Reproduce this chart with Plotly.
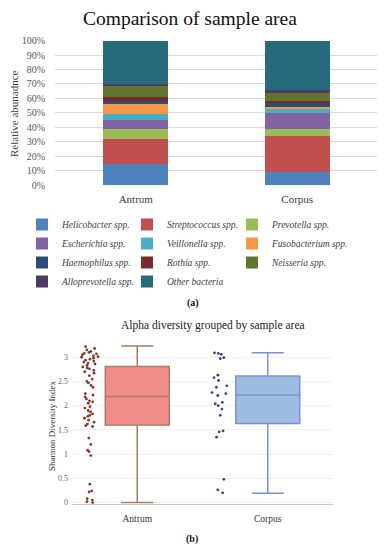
import plotly.graph_objects as go

W, H = 385, 550
OFF = 8  # page body margin of the viewing page

# ---------------- data: panel (a) ----------------
sites = ["Antrum", "Corpus"]
taxa = ["Helicobacter spp.", "Streptococcus spp.", "Prevotella spp.",
        "Escherichia spp.", "Veillonella spp.", "Fusobacterium spp.",
        "Haemophilus spp.", "Rothia spp.", "Neisseria spp.",
        "Alloprevotella spp.", "Other bacteria"]
antrum_pct = [14.3, 17.6, 6.9, 6.2, 4.4, 6.5, 2.3, 2.8, 7.6, 1.6, 29.8]
corpus_pct = [8.8, 25.4, 4.8, 11.1, 2.5, 1.8, 2.5, 1.6, 5.5, 1.6, 34.4]
pct_ticks = list(range(0, 101, 10))

# ---------------- data: panel (b) ----------------
antrum_shannon = [3.22, 3.18, 3.15, 3.12, 3.10, 3.08, 3.07, 3.05, 3.03, 3.01,
                  3.00, 2.98, 2.96, 2.94, 2.92, 2.90, 2.88, 2.86, 2.83, 2.80,
                  2.78, 2.76, 2.73, 2.70, 2.67, 2.62, 2.55, 2.50, 2.47, 2.42,
                  2.38, 2.25, 2.22, 2.18, 2.14, 2.10, 2.08, 2.05, 1.98, 1.95,
                  1.90, 1.87, 1.83, 1.80, 1.78, 1.74, 1.70, 1.66, 1.62, 1.59,
                  1.57, 1.33, 1.20, 1.08, 1.05, 0.97, 0.38, 0.24, 0.22, 0.08,
                  0.05, 0.02, 0.00]
corpus_shannon = [3.09, 3.08, 3.06, 2.99, 2.97, 2.63, 2.58, 2.52, 2.41, 2.38,
                  2.27, 2.25, 2.21, 2.07, 2.04, 2.00, 1.93, 1.80, 1.48, 1.46,
                  1.35, 0.48, 0.26, 0.20]
# box statistics: [q1, median, q3, lower fence, upper fence]
antrum_stats = [1.60, 2.19, 2.81, 0.00, 3.23]
corpus_stats = [1.63, 2.22, 2.61, 0.19, 3.09]
shannon_ticks = [0, 0.5, 1, 1.5, 2, 2.5, 3]

# ---------------- styles ----------------
taxa_colors = ["#4F81BD", "#C0504D", "#9BBB59", "#8064A2", "#4BACC6", "#F79646",
               "#2C4D75", "#772C2A", "#5F7530", "#4D3B62", "#276A7C"]
legend_ids = ["legend", "legend2", "legend3"]
SERIF = "Liberation Serif, Times New Roman, serif"


def px(x):
    return (x - OFF) / W


def py(y):
    return 1 - (y - OFF) / H


fig = go.Figure()

for i, name in enumerate(taxa):
    fig.add_trace(go.Bar(
        x=sites, y=[antrum_pct[i], corpus_pct[i]], name=name,
        marker=dict(color=taxa_colors[i], line=dict(width=0)),
        width=0.4, legend=legend_ids[i % 3], xaxis="x", yaxis="y",
    ))

box_specs = [
    ("Antrum", antrum_shannon, antrum_stats, "rgb(240,140,140)", "rgb(168,125,98)", "rgb(135,55,40)"),
    ("Corpus", corpus_shannon, corpus_stats, "rgb(157,188,224)", "rgb(125,145,210)", "rgb(60,70,115)"),
]
for site, vals, st, fillc, linec, ptc in box_specs:
    fig.add_trace(go.Box(
        x=[site], q1=[st[0]], median=[st[1]], q3=[st[2]],
        lowerfence=[st[3]], upperfence=[st[4]],
        fillcolor=fillc, line=dict(color=linec, width=1.5),
        width=0.49, whiskerwidth=0.5, boxpoints=False,
        showlegend=False, xaxis="x2", yaxis="y2",
    ))
    fig.add_trace(go.Box(
        x=[site] * len(vals), y=vals,
        fillcolor="rgba(0,0,0,0)", line=dict(color="rgba(0,0,0,0)", width=0),
        width=0.49, boxpoints="all", jitter=0.27, pointpos=-1.48,
        marker=dict(color=ptc, size=2.8),
        showlegend=False, xaxis="x2", yaxis="y2",
    ))

legend_common = dict(
    orientation="v", xanchor="left", yanchor="top", traceorder="normal",
    bgcolor="rgba(0,0,0,0)",
    font=dict(family=SERIF, size=9.5, color="#404040", style="italic"),
    tracegroupgap=0, itemwidth=30,
)
legend_y = py(210)
layout_legends = {
    "legend": dict(x=px(22), y=legend_y, **legend_common),
    "legend2": dict(x=px(127), y=legend_y, **legend_common),
    "legend3": dict(x=px(232), y=legend_y, **legend_common),
}


def ann(text, x, y, size, color="#222222", angle=0):
    return dict(text=text, x=px(x), y=py(y), xref="paper", yref="paper",
                xanchor="center", yanchor="middle", textangle=angle,
                showarrow=False, font=dict(family=SERIF, size=size, color=color))


fig.update_layout(
    template="none",
    width=W, height=H,
    margin=dict(l=0, r=0, t=0, b=0, pad=0, autoexpand=False),
    paper_bgcolor="white", plot_bgcolor="white",
    barmode="stack", boxmode="overlay",
    font=dict(family=SERIF, color="#404040"),
    xaxis=dict(domain=[px(55), px(378)], range=[-0.5, 1.5], showgrid=False, showline=False,
               zeroline=False, automargin=False, ticks="",
               tickfont=dict(family=SERIF, size=11, color="#404040"), ticklabelstandoff=6),
    yaxis=dict(domain=[py(185), py(40.7)], range=[0, 100], tickvals=pct_ticks,
               ticktext=[f"{v}%" for v in pct_ticks], automargin=False, ticks="",
               showgrid=True, gridcolor="#D9D9D9", gridwidth=1,
               zeroline=False, showline=False,
               tickfont=dict(family=SERIF, size=10, color="#595959"), ticklabelstandoff=9),
    xaxis2=dict(domain=[px(72), px(333)], anchor="y2", range=[-0.5, 1.5], showgrid=False,
                automargin=False, showline=True, linecolor="#C8C8C8", linewidth=1,
                zeroline=False, ticks="",
                tickfont=dict(family=SERIF, size=9.5, color="#333333"), ticklabelstandoff=6),
    yaxis2=dict(domain=[py(504), py(342.7)], anchor="x2", range=[-0.03, 3.3],
                tickvals=shannon_ticks, ticktext=[str(t) for t in shannon_ticks],
                automargin=False, ticks="",
                showgrid=True, gridcolor="#F3EEF2", gridwidth=1,
                zeroline=False, showline=False,
                tickfont=dict(family=SERIF, size=8, color="#666666"), ticklabelstandoff=3),
    annotations=[
        ann("Comparison of sample area", 190, 18.5, 19.5, "#111111"),
        ann("Relative abunadnce", 14, 114, 11, "#404040", -90),
        ann("<b>(a)</b>", 192.5, 302.5, 10, "#111111"),
        ann("Alpha diversity grouped by sample area", 213, 325, 11.5, "#222222"),
        ann("Shannon Diversity Index", 52, 426, 9, "#333333", -90),
        ann("<b>(b)</b>", 192, 539, 10, "#111111"),
    ],
    **layout_legends,
)

fig.write_html("out.html")
